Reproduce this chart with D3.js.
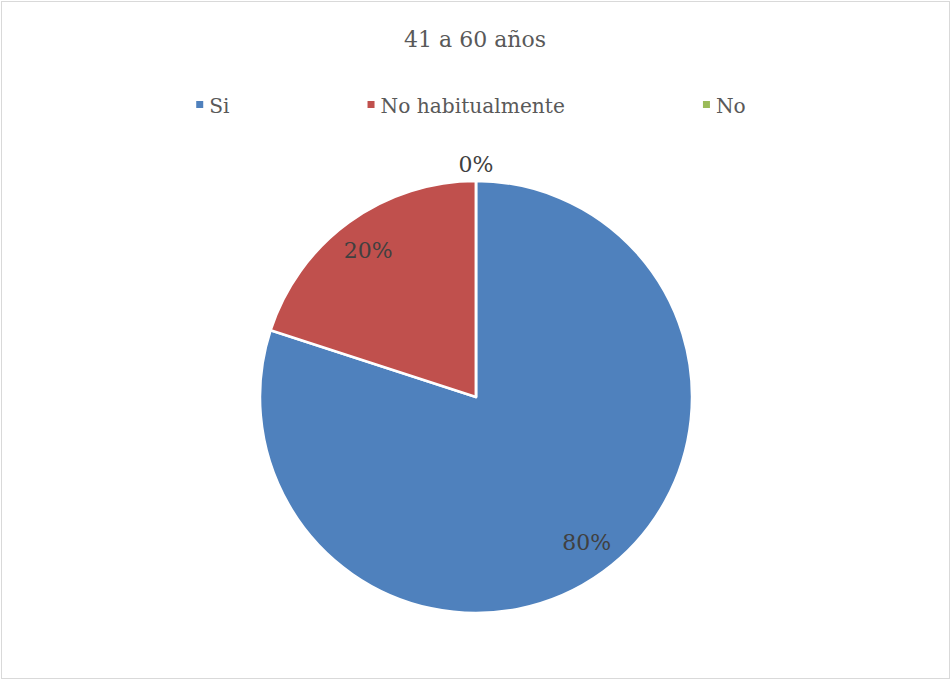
<!DOCTYPE html>
<html>
<head>
<meta charset="utf-8">
<script src="https://cdn.jsdelivr.net/npm/d3@7"></script>
<style>
  html, body { margin: 0; padding: 0; background: #fff; }
  svg { display: block; }
  text { font-family: "DejaVu Serif", "Liberation Serif", serif; }
</style>
</head>
<body>
<svg id="chart" width="951" height="680"></svg>
<script>
// Data
const title = "41 a 60 años";
const categories = ["Si", "No habitualmente", "No"];
const values = [80, 20, 0];
const colors = ["#4F81BD", "#C0504D", "#9BBB59"];

const W = 951, H = 680;
const svg = d3.select("#chart");

// Chart frame
svg.append("rect")
  .attr("x", 1.5).attr("y", 1.5)
  .attr("width", W - 3).attr("height", H - 3)
  .attr("fill", "#fff")
  .attr("stroke", "#d9d9d9").attr("stroke-width", 1);

// Title
svg.append("text")
  .attr("x", 475).attr("y", 47)
  .attr("text-anchor", "middle")
  .attr("font-size", 22)
  .attr("fill", "#595959")
  .text(title);

// Legend
const legendFont = 20.2;
const gap = 138, marker = 7, markerGap = 6;
const legend = svg.append("g");
const items = legend.selectAll("g.item")
  .data(categories)
  .join("g").attr("class", "item");
items.append("rect")
  .attr("width", marker).attr("height", marker)
  .attr("y", 101)
  .attr("fill", (d, i) => colors[i]);
items.append("text")
  .attr("y", 113)
  .attr("font-size", legendFont)
  .attr("fill", "#595959")
  .text(d => d);
const widths = [];
items.each(function () {
  widths.push(marker + markerGap + d3.select(this).select("text").node().getComputedTextLength());
});
const total = d3.sum(widths) + gap * (widths.length - 1);
let x0 = 471 - total / 2;
items.each(function (d, i) {
  const g = d3.select(this);
  g.select("rect").attr("x", x0);
  g.select("text").attr("x", x0 + marker + markerGap);
  x0 += widths[i] + gap;
});

// Pie
const cx = 476, cy = 397, R = 216;
const pie = d3.pie().sort(null).value(d => d)
  .startAngle(0).endAngle(2 * Math.PI);
const arcs = pie(values);
const arc = d3.arc().innerRadius(0).outerRadius(R);
const labelArc = d3.arc().innerRadius(180).outerRadius(180);

const g = svg.append("g").attr("transform", `translate(${cx},${cy})`);
g.selectAll("path")
  .data(arcs)
  .join("path")
  .attr("d", arc)
  .attr("fill", (d, i) => colors[i])
  .attr("stroke", "#fff")
  .attr("stroke-width", 2.5)
  .attr("stroke-linejoin", "round");

// Data labels
const fmt = v => Math.round(v / d3.sum(values) * 100) + "%";
g.selectAll("text.lbl")
  .data(arcs)
  .join("text")
  .attr("class", "lbl")
  .attr("text-anchor", "middle")
  .attr("font-size", 22)
  .attr("fill", "#404040")
  .attr("transform", d => {
    if (d.value === 0) {
      const a = d.startAngle;
      const r = R + 17;
      return `translate(${Math.sin(a) * r},${-Math.cos(a) * r + 8})`;
    }
    const [x, y] = labelArc.centroid(d);
    const dx = x > 0 ? 5 : -2;
    return `translate(${x + dx},${y + 7})`;
  })
  .text(d => fmt(d.value));
</script>
</body>
</html>
